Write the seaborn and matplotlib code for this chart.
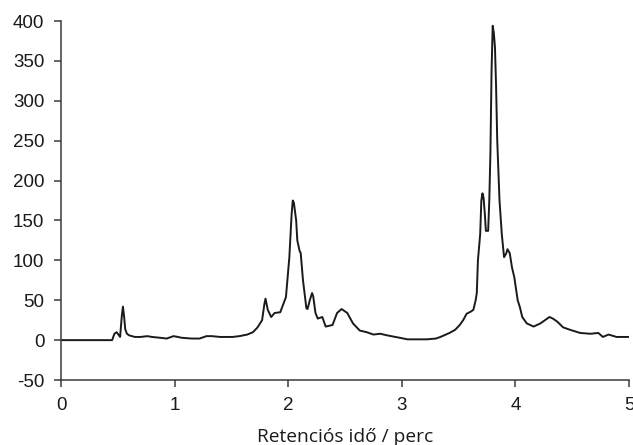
import matplotlib
matplotlib.use("Agg")
import matplotlib.pyplot as plt
import seaborn as sns
import pandas as pd

# Chromatogram trace: retention time (min) and detector signal
ret_time = [
    0.00, 0.45, 0.47, 0.49, 0.51, 0.52, 0.535, 0.545, 0.555, 0.565, 0.58, 0.60,
    0.65, 0.70, 0.76, 0.80, 0.87, 0.93, 0.99, 1.03, 1.06, 1.15, 1.22, 1.28,
    1.33, 1.40, 1.51, 1.57, 1.64, 1.69, 1.73, 1.77, 1.79, 1.80, 1.82, 1.85,
    1.88, 1.93, 1.98, 2.01, 2.03, 2.04, 2.05, 2.07, 2.08, 2.10, 2.11, 2.13,
    2.16, 2.17, 2.19, 2.21, 2.22, 2.24, 2.26, 2.30, 2.33, 2.39, 2.43, 2.47,
    2.52, 2.57, 2.63, 2.69, 2.75, 2.81, 2.87, 2.98, 3.05, 3.13, 3.22, 3.30,
    3.34, 3.42, 3.47, 3.51, 3.54, 3.57, 3.61, 3.63, 3.65, 3.66, 3.67, 3.69,
    3.70, 3.71, 3.72, 3.73, 3.74, 3.76, 3.77, 3.78, 3.79, 3.80, 3.81, 3.82,
    3.83, 3.84, 3.86, 3.88, 3.90, 3.92, 3.93, 3.95, 3.97, 3.99, 4.02, 4.04,
    4.06, 4.10, 4.16, 4.22, 4.28, 4.30, 4.33, 4.37, 4.42, 4.48, 4.57, 4.66,
    4.73, 4.77, 4.82, 4.89, 4.95, 5.00,
]
signal = [
    0, 0, 8, 10, 6, 4, 30, 42, 30, 14, 8, 6,
    4, 4, 5, 4, 3, 2, 5, 4, 3, 2, 2, 5,
    5, 4, 4, 5, 7, 10, 16, 25, 45, 52, 38, 29,
    34, 35, 54, 104, 158, 175, 172, 150, 125, 112, 109, 75,
    40, 39, 50, 59, 55, 34, 27, 29, 17, 19, 34, 39,
    34, 21, 12, 10, 7, 8, 6, 3, 1, 1, 1, 2,
    4, 9, 13, 19, 25, 33, 36, 38, 50, 59, 100, 133,
    175, 184, 178, 160, 137, 137, 175, 235, 338, 394, 385, 367,
    317, 250, 175, 133, 104, 109, 114, 109, 91, 79, 50, 41,
    29, 21, 17, 21, 27, 29, 27, 23, 16, 13, 9, 8,
    9, 4, 7, 4, 4, 4,
]

x_ticks = [0, 1, 2, 3, 4, 5]
y_ticks = [-50, 0, 50, 100, 150, 200, 250, 300, 350, 400]
x_label = "Retenciós idő / perc"

sns.set_style("ticks")
plt.rcParams["font.family"] = ["Liberation Sans", "DejaVu Sans"]

df = pd.DataFrame({"t": ret_time, "s": signal})

fig = plt.figure(figsize=(6.33, 4.45), dpi=100)
ax = fig.add_axes([0.0964, 0.146, 0.8973, 0.8068])

sns.lineplot(data=df, x="t", y="s", ax=ax, color="#1a1a1a", linewidth=1.4)

ax.set_xlim(0, 5)
ax.set_ylim(-50, 400)
ax.set_xticks(x_ticks)
ax.set_yticks(y_ticks)
ax.set_xticklabels([str(v) for v in x_ticks])
ax.set_yticklabels([str(v) for v in y_ticks])

for side in ("top", "right"):
    ax.spines[side].set_visible(False)
for side in ("left", "bottom"):
    ax.spines[side].set_color("#3a3a3a")
    ax.spines[side].set_linewidth(1.1)

ax.tick_params(axis="both", direction="out", length=5, width=1.1,
               color="#3a3a3a", labelsize=13.5, labelcolor="#1a1a1a", pad=7)

ax.set_xlabel(x_label, fontsize=13.8, family=["Open Sans", "DejaVu Sans"],
              color="#1a1a1a", labelpad=10)
ax.set_ylabel("")

fig.savefig("out.png", dpi=100)
